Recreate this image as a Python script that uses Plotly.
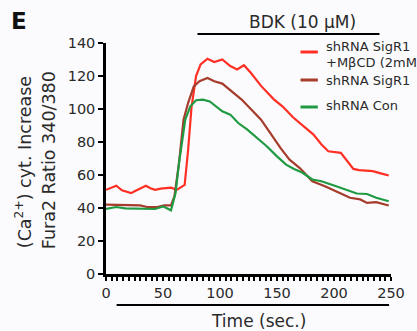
import plotly.graph_objects as go

# ---- data ----
red_t = [0, 4, 9, 14, 19, 22, 26, 30, 35, 39, 43, 48, 53, 57, 62, 66, 69, 72, 75, 79, 83,
         89, 95, 102, 109, 115, 121, 127, 136, 147, 155, 164, 172, 178, 182, 189, 195,
         206, 213, 217, 222, 226, 234, 241, 248]
red_v = [51, 52, 53.5, 50.7, 49.5, 49, 50.5, 52, 53.5, 52, 51, 51.7, 52, 52.3, 51, 52.5, 54,
         75, 101, 120, 127, 130.5, 128.5, 130, 126, 124, 126.5, 122, 114, 106, 101.5, 95,
         90.5, 87, 84.5, 78.5, 74.4, 73.4, 67.4, 63.7, 63, 62.7, 62.3, 61, 59.7]

brown_t = [0, 10, 20, 30, 36, 45, 51, 57, 60, 64, 68, 72, 77, 82, 89, 95, 102, 110, 119,
           127, 136, 144, 153, 161, 170, 181, 192, 206, 214, 223, 229, 237, 248]
brown_v = [42, 41.8, 41.8, 41.6, 40.6, 40.6, 41.6, 41.6, 47, 67, 93.5, 103.6, 113.7, 116.8,
           118.8, 116.8, 115.4, 110.7, 105.7, 100, 93.5, 85.5, 76.4, 69.3, 64.2, 56.2, 53.2,
           48.8, 46.2, 45.2, 43.1, 43.5, 41.5]

green_t = [0, 9, 17, 31, 43, 50, 57, 61, 64, 69.5, 74, 79, 85, 91, 96, 102, 109, 116, 124,
           133, 141, 150, 158, 165, 172, 181, 189, 200, 212, 220, 229, 237, 248]
green_v = [39.4, 40.6, 39.8, 39.8, 39.4, 41, 38.6, 49, 67, 93.5, 101.6, 105.3, 105.7, 104.6,
           102, 98.6, 96.6, 91.5, 87.5, 82.4, 77.4, 71.3, 66.3, 63.6, 61.5, 57.3, 56.2, 53.6,
           50.8, 48.8, 48.5, 46.2, 44.1]

series_names = ["shRNA SigR1 +MβCD (2mM)", "shRNA SigR1", "shRNA Con"]
series_colors = ["#ff2f24", "#a63c2c", "#1f9a42"]

y_ticks = [0, 20, 40, 60, 80, 100, 120, 140]
x_ticks = [0, 50, 100, 150, 200, 250]

FONT = "DejaVu Sans, Verdana, sans-serif"
TXT = "#2a2a2a"

fig = go.Figure()
for t, v, name, col in zip([red_t, brown_t, green_t], [red_v, brown_v, green_v],
                           series_names, series_colors):
    fig.add_trace(go.Scatter(x=t, y=v, mode="lines", name=name,
                             line=dict(color=col, width=2.2), showlegend=False))

W, H = 417, 331
L, R, T, B = 106, 15, 43, 57
pw, ph = W - L - R, H - T - B


def px(xp):
    return (xp - L) / pw


def py(yp):
    return (H - B - yp) / ph


fig.update_layout(
    width=W, height=H,
    margin=dict(l=L, r=R, t=T, b=B),
    paper_bgcolor="#fbfbfd", plot_bgcolor="#fbfbfd",
    font=dict(family=FONT, color=TXT),
    xaxis=dict(range=[0, 250], tickvals=x_ticks, showline=True, linecolor="black",
               linewidth=2.5, ticks="outside", ticklen=4, tickwidth=2, tickcolor="black",
               showgrid=False, zeroline=False, tickfont=dict(size=14.5, color=TXT),
               minor=dict(dtick=5, tick0=0, ticks="outside", ticklen=4, tickwidth=1.5,
                          tickcolor="black", showgrid=False)),
    yaxis=dict(range=[0, 140], tickvals=y_ticks, showline=True, linecolor="black",
               linewidth=2.5, ticks="outside", ticklen=5, tickwidth=2, tickcolor="black",
               showgrid=False, zeroline=False, tickfont=dict(size=14.5, color=TXT)),
)

ann = []
# panel letter
ann.append(dict(text="<b>E</b>", x=px(16), y=py(21), xref="paper", yref="paper",
                showarrow=False, font=dict(size=23, color="#111"), xanchor="center",
                yanchor="middle"))
# BDK label
ann.append(dict(text="BDK (10 µM)", x=px(310), y=py(22), xref="paper", yref="paper",
                showarrow=False, font=dict(size=17), xanchor="center", yanchor="middle"))
# x title
ann.append(dict(text="Time (sec.)", x=px(264), y=py(321), xref="paper", yref="paper",
                showarrow=False, font=dict(size=17), xanchor="center", yanchor="middle"))
# y titles
ann.append(dict(text="(Ca<sup>2+</sup>) cyt. Increase", x=px(20), y=py(162), xref="paper",
                yref="paper", showarrow=False, textangle=-90, font=dict(size=17.5),
                xanchor="center", yanchor="middle"))
ann.append(dict(text="Fura2 Ratio 340/380", x=px(47), y=py(160), xref="paper",
                yref="paper", showarrow=False, textangle=-90, font=dict(size=17.5),
                xanchor="center", yanchor="middle"))

shapes = [
    dict(type="line", xref="paper", yref="paper", x0=px(201), x1=px(390), y0=py(34),
         y1=py(34), line=dict(color="black", width=2)),
    dict(type="line", xref="paper", yref="paper", x0=px(117), x1=px(400), y0=py(305),
         y1=py(305), line=dict(color="black", width=2)),
]

# manual legend
leg_rows = [
    (["shRNA SigR1", "+MβCD (2mM)"], [47, 62], 52, series_colors[0]),
    (["shRNA SigR1"], [80], 80, series_colors[1]),
    (["shRNA Con"], [105], 107, series_colors[2]),
]
for lines, ys, ly, col in leg_rows:
    shapes.append(dict(type="line", xref="paper", yref="paper", x0=px(308), x1=px(326),
                       y0=py(ly), y1=py(ly), line=dict(color=col, width=3)))
    for txt, yy in zip(lines, ys):
        ann.append(dict(text=txt, x=px(332), y=py(yy), xref="paper", yref="paper",
                        showarrow=False, font=dict(size=13), xanchor="left",
                        yanchor="middle"))

fig.update_layout(annotations=ann, shapes=shapes)
fig.write_html("out.html", config={"displayModeBar": False},
               post_script="document.body.style.margin='0';document.body.style.padding='0';"
                           "document.body.style.overflow='hidden';")
